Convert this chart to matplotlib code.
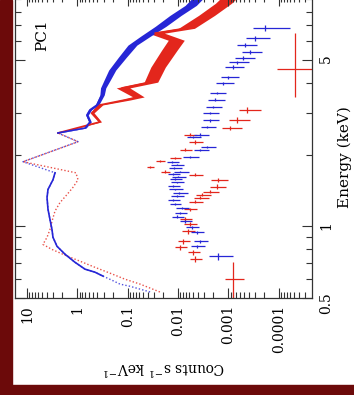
import numpy as np
import matplotlib
matplotlib.use('Agg')
import matplotlib.pyplot as plt
from matplotlib.patches import Rectangle
from matplotlib.ticker import FixedLocator, LogLocator, NullFormatter

plt.rcParams['font.family'] = 'DejaVu Serif'
plt.rcParams['mathtext.fontset'] = 'dejavuserif'

# source spectrum, blue (energy keV, counts/s/keV, relative error)
blue_hi_e = [0.53, 0.56, 0.572, 0.594, 0.618, 0.642, 0.661, 0.707, 0.764, 0.825, 0.90, 0.97,
             1.07, 1.18, 1.32, 1.43, 1.57, 1.68, 1.87, 2.27, 2.47, 2.59, 2.75, 2.94, 3.09,
             3.24, 3.57, 3.82, 4.12, 4.54, 5.14, 5.78, 6.30, 6.93, 7.71, 8.49, 9.2]
blue_hi_c = [0.036, 0.090, 0.143, 0.206, 0.31, 0.448, 0.706, 1.12, 1.76, 2.54, 3.05, 3.19,
             3.50, 3.83, 4.0, 3.83, 3.05, 2.78, 12.0, 0.97, 2.43, 0.706, 0.562, 0.646, 0.562,
             0.408, 0.325, 0.31, 0.259, 0.206, 0.130, 0.0826, 0.0456, 0.023, 0.0116, 0.0058, 0.004]
blue_hi_r = [0.03, 0.03, 0.03, 0.03, 0.03, 0.03, 0.03, 0.03, 0.03, 0.03, 0.03, 0.03,
             0.03, 0.03, 0.03, 0.03, 0.03, 0.03, 0.03, 0.04, 0.04, 0.05, 0.06, 0.06, 0.07,
             0.08, 0.1, 0.12, 0.14, 0.16, 0.18, 0.2, 0.22, 0.24, 0.25, 0.25, 0.25]

# source spectrum, red
red_hi_e = [0.53, 0.572, 0.60, 0.636, 0.673, 0.714, 0.757, 0.80, 0.84, 0.90, 0.97, 1.05,
            1.16, 1.26, 1.36, 1.46, 1.57, 1.68, 1.87, 2.27, 2.47, 2.75, 3.0, 3.24, 3.40,
            3.50, 3.82, 4.04, 4.67, 5.5, 6.06, 6.49, 6.80, 7.71, 8.66, 9.2]
red_hi_c = [0.023, 0.057, 0.114, 0.225, 0.448, 0.887, 1.76, 3.19, 4.82, 4.0, 3.5, 3.19,
            2.78, 2.21, 1.61, 1.22, 0.97, 1.07, 12.0, 0.97, 2.43, 0.356, 0.513, 0.356, 0.114,
            0.0628, 0.130, 0.0363, 0.0264, 0.0159, 0.0116, 0.0288, 0.0073, 0.0029, 0.00135, 0.001]
red_hi_r = [0.03, 0.03, 0.03, 0.03, 0.03, 0.03, 0.03, 0.03, 0.03, 0.03, 0.03, 0.03,
            0.03, 0.03, 0.03, 0.03, 0.03, 0.03, 0.03, 0.05, 0.05, 0.07, 0.09, 0.12, 0.22,
            0.25, 0.3, 0.3, 0.32, 0.34, 0.35, 0.35, 0.35, 0.35, 0.35, 0.35]

# background / faint spectrum, blue
blue_lo_e = [0.749, 0.825, 0.865, 0.944, 0.99, 1.05, 1.10, 1.14, 1.19, 1.24, 1.29, 1.34, 1.38,
             1.43, 1.48, 1.53, 1.58, 1.62, 1.66, 1.70, 1.76, 1.82, 1.87, 1.96, 2.10, 2.16,
             2.38, 2.43, 2.62, 2.80, 3.0, 3.18, 3.40, 3.64, 4.0, 4.24, 4.67, 4.90, 5.09,
             5.40, 5.78, 6.18, 6.80]
blue_lo_c = [0.00162, 0.00424, 0.00369, 0.00424, 0.00532, 0.00733, 0.0105, 0.0092, 0.0085,
             0.0116, 0.0125, 0.0106, 0.0095, 0.0116, 0.0125, 0.0106, 0.0115, 0.0101, 0.0125,
             0.0092, 0.0120, 0.0106, 0.0133, 0.00583, 0.00369, 0.00268, 0.00508, 0.00369,
             0.00268, 0.00234, 0.00234, 0.00204, 0.00186, 0.0017, 0.00129, 0.00103, 0.00082,
             0.00068, 0.00052, 0.000376, 0.000473, 0.000299, 0.00019]
blue_lo_cerr = [0.0008, 0.0013, 0.0011, 0.0012, 0.0015, 0.002, 0.003, 0.0025, 0.0025,
                0.003, 0.0035, 0.003, 0.003, 0.0035, 0.0035, 0.003, 0.003, 0.003, 0.0035,
                0.003, 0.0035, 0.003, 0.0035, 0.002, 0.0012, 0.0009, 0.0016, 0.0012,
                0.0009, 0.0008, 0.0008, 0.0007, 0.0007, 0.0006, 0.0005, 0.0004, 0.00033,
                0.00028, 0.00022, 0.00016, 0.0002, 0.00015, 0.00013]
blue_lo_eerr = [0.025, 0.012, 0.012, 0.012, 0.012, 0.012, 0.012, 0.012, 0.012, 0.012, 0.012,
                0.012, 0.012, 0.012, 0.012, 0.012, 0.012, 0.012, 0.012, 0.012, 0.012, 0.012,
                0.015, 0.02, 0.02, 0.02, 0.03, 0.03, 0.03, 0.04, 0.04, 0.04, 0.05, 0.05,
                0.06, 0.06, 0.08, 0.08, 0.1, 0.1, 0.12, 0.14, 0.2]

# background / faint spectrum, red
red_lo_e = [0.60, 0.728, 0.778, 0.817, 0.865, 0.953, 1.02, 1.07, 1.18, 1.27, 1.32, 1.36,
            1.40, 1.47, 1.57, 1.65, 1.70, 1.78, 1.89, 1.94, 2.10, 2.27, 2.43, 2.59, 2.80,
            3.09, 4.58]
red_lo_c = [0.00082, 0.00464, 0.00508, 0.0092, 0.00803, 0.0064, 0.00583, 0.00733, 0.00583,
            0.00464, 0.00369, 0.00337, 0.00234, 0.0017, 0.00162, 0.00464, 0.0183, 0.0363,
            0.023, 0.0116, 0.00733, 0.00464, 0.00583, 0.00094, 0.00068, 0.000431, 4.8e-5]
red_lo_cerr = [0.00033, 0.0013, 0.0014, 0.0025, 0.0022, 0.0018, 0.0017, 0.002, 0.0017,
               0.0014, 0.0012, 0.0011, 0.0008, 0.0006, 0.0006, 0.0014, 0.004, 0.006,
               0.005, 0.003, 0.002, 0.0014, 0.0017, 0.0004, 0.0003, 0.0002, 6e-5]
red_lo_elo = [0.10, 0.02, 0.02, 0.02, 0.02, 0.02, 0.02, 0.02, 0.02, 0.02, 0.02, 0.02, 0.02,
              0.03, 0.03, 0.02, 0.02, 0.02, 0.02, 0.02, 0.03, 0.04, 0.04, 0.06, 0.07, 0.08, 1.08]
red_lo_ehi = [0.107, 0.02, 0.02, 0.02, 0.02, 0.02, 0.02, 0.02, 0.02, 0.02, 0.02, 0.02, 0.02,
              0.03, 0.03, 0.02, 0.02, 0.02, 0.02, 0.02, 0.03, 0.04, 0.04, 0.06, 0.07, 0.08, 1.91]

blue = '#2626d6'
red = '#e3261c'
dark = '#6c0a0a'

fig = plt.figure(figsize=(3.54, 3.95), dpi=100, facecolor='white')
fig.patches.append(Rectangle((0, 0), 12 / 354, 1, transform=fig.transFigure,
                             color=dark, zorder=-5))
fig.patches.append(Rectangle((0, 0), 1, 10 / 395, transform=fig.transFigure,
                             color=dark, zorder=-5))

ax = fig.add_axes([15 / 354, 97 / 395, 297 / 354, 302 / 395])
ax.set_xscale('log')
ax.set_yscale('log')
ax.set_xlim(17.3, 2.2e-5)
ax.set_ylim(0.5, 9.3)

# bright spectra: thin/dotted at low energy, error band at high energy
for e, c, r, col, solid_lo in [(red_hi_e, red_hi_c, red_hi_r, red, 99.0),
                               (blue_hi_e, blue_hi_c, blue_hi_r, blue, 0.6)]:
    e = np.array(e)
    c = np.array(c)
    r = np.array(r)
    hi = e >= 2.47
    ax.fill_betweenx(e[hi], c[hi] * (1 - r[hi]), c[hi] * (1 + r[hi]), color=col, lw=0)
    ax.plot(c[e <= 2.47], e[e <= 2.47], color=col, lw=1.0, ls=(0, (1, 1.5)), alpha=0.8)
    mid = (e >= solid_lo) & (e <= 1.68)
    ax.plot(c[mid], e[mid], color=col, lw=1.2)
    ax.plot(c[hi], e[hi], color=col, lw=1.2)

# faint spectra as crosses
ax.errorbar(red_lo_c, red_lo_e, xerr=red_lo_cerr, yerr=[red_lo_elo, red_lo_ehi],
            fmt='none', ecolor=red, elinewidth=0.9, capsize=0)
ax.errorbar(blue_lo_c, blue_lo_e, xerr=blue_lo_cerr, yerr=blue_lo_eerr,
            fmt='none', ecolor=blue, elinewidth=0.9, capsize=0)

ax.xaxis.set_major_locator(FixedLocator([10, 1, 0.1, 0.01, 0.001, 0.0001]))
ax.set_xticklabels(['10', '1', '0.1', '0.01', '0.001', '0.0001'])
ax.xaxis.set_minor_locator(LogLocator(base=10, subs=range(2, 10), numticks=20))
ax.xaxis.set_minor_formatter(NullFormatter())
ax.yaxis.set_major_locator(FixedLocator([0.5, 1, 5]))
ax.set_yticklabels(['0.5', '1', '5'])
ax.yaxis.set_minor_locator(LogLocator(base=10, subs=range(2, 10), numticks=20))
ax.yaxis.set_minor_formatter(NullFormatter())

ax.tick_params(which='both', direction='in', top=True, right=True, left=True, bottom=True,
               labelleft=False, labelright=True, width=0.8, color='#333333')
ax.tick_params(which='major', length=7)
ax.tick_params(which='minor', length=4)
ax.tick_params(axis='x', labelrotation=90, labelsize=10, pad=5)
ax.tick_params(axis='y', labelrotation=90, labelsize=10, pad=5)
for s in ax.spines.values():
    s.set_linewidth(0.9)
    s.set_color('#333333')

ax.set_xlabel('Counts s$^{-1}$ keV$^{-1}$', rotation=180, fontsize=10, labelpad=4)
ax.text(1.11, 0.467, 'Energy (keV)', transform=ax.transAxes, rotation=90, fontsize=11,
        ha='center', va='center')
ax.text(0.09, 0.87, 'PC1', transform=ax.transAxes, rotation=90, fontsize=11,
        ha='center', va='center')

fig.savefig('out.png', dpi=100, facecolor='white')
